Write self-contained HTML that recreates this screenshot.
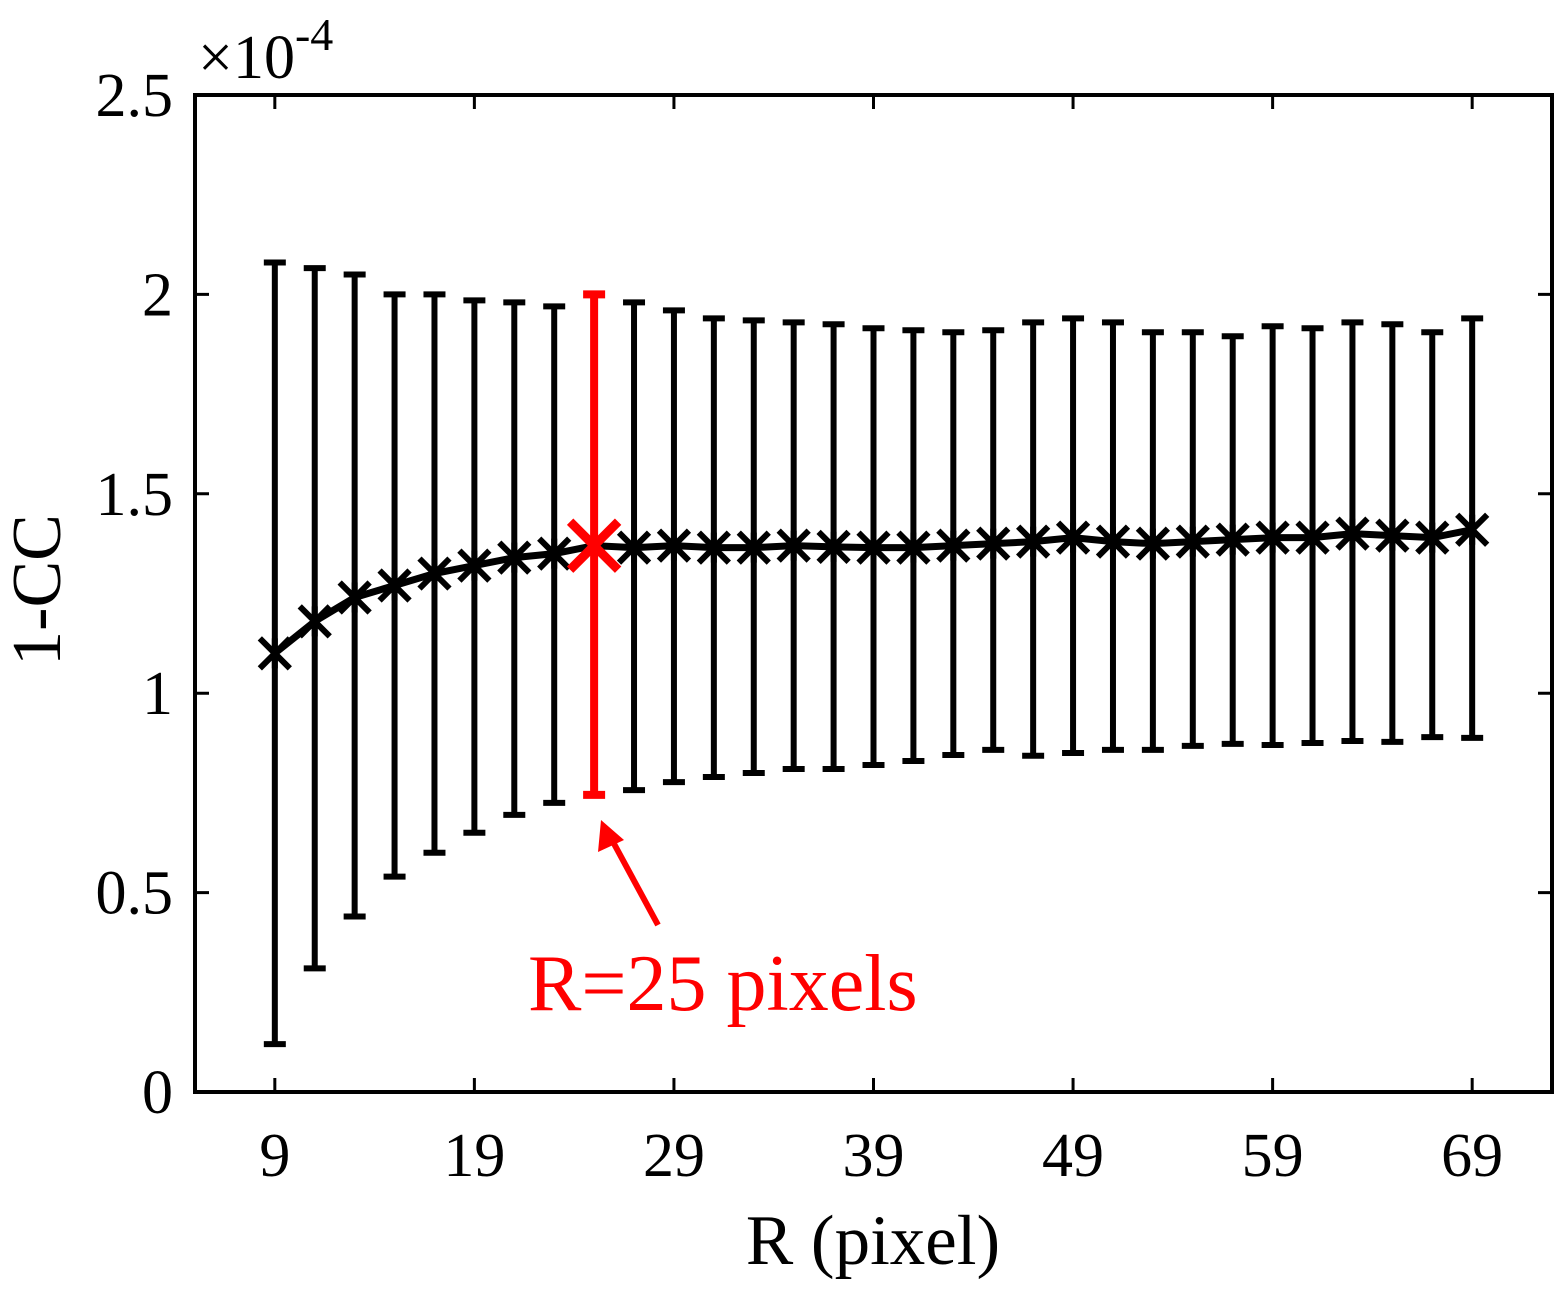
<!DOCTYPE html>
<html><head><meta charset="utf-8"><style>
html,body{margin:0;padding:0;background:#fff;}
svg{display:block;font-family:"Liberation Serif",serif;}
</style></head><body>
<svg id="chart" width="1568" height="1293" viewBox="0 0 1568 1293" xmlns="http://www.w3.org/2000/svg">
<g id="plot"></g>
</svg>
<script>
const xValues=[9,11,13,15,17,19,21,23,25,27,29,31,33,35,37,39,41,43,45,47,49,51,53,55,57,59,61,63,65,67,69];
const meanValues=[1.10,1.18,1.24,1.27,1.30,1.32,1.34,1.35,1.37,1.365,1.37,1.365,1.365,1.37,1.367,1.365,1.365,1.37,1.375,1.38,1.39,1.38,1.375,1.38,1.385,1.39,1.39,1.40,1.395,1.39,1.41];
const upperValues=[2.08,2.066,2.05,2.0,2.0,1.985,1.98,1.97,2.0,1.98,1.96,1.94,1.935,1.93,1.925,1.915,1.91,1.905,1.91,1.93,1.94,1.93,1.905,1.905,1.895,1.92,1.915,1.93,1.925,1.905,1.94];
const lowerValues=[0.12,0.31,0.44,0.54,0.60,0.65,0.695,0.725,0.745,0.757,0.777,0.79,0.80,0.81,0.81,0.82,0.83,0.845,0.858,0.843,0.85,0.858,0.858,0.868,0.873,0.87,0.875,0.88,0.878,0.89,0.888];
const highlightX=25;
const xTicks=[9,19,29,39,49,59,69];
const yTicks=[0,0.5,1,1.5,2,2.5];
const yTickLabels=["0","0.5","1","1.5","2","2.5"];

const L=195,R=1552,T=95,B=1092,xMin=5,xMax=73,yMin=0,yMax=2.5;
const sx=v=>L+(v-xMin)/(xMax-xMin)*(R-L);
const sy=v=>B-(v-yMin)/(yMax-yMin)*(B-T);
const NS="http://www.w3.org/2000/svg";
const g=document.getElementById('plot');
function mk(tag,attrs,parent){const e=document.createElementNS(NS,tag);for(const k in attrs)e.setAttribute(k,attrs[k]);(parent||g).appendChild(e);return e;}

const box=mk('rect',{x:L,y:T,width:R-L,height:B-T,fill:'none',stroke:'#000','stroke-width':4});



xTicks.forEach(t=>{
  const x=sx(t);
  const tk=mk('path',{d:`M${x},${B}V${B-14}M${x},${T}V${T+14}`,stroke:'#000','stroke-width':3});
  
  
  const lb=mk('text',{x:x,y:B+84,'font-size':62,'text-anchor':'middle',fill:'#000'});
  lb.textContent=t;
  
  
});
yTicks.forEach((t,i)=>{
  const y=sy(t);
  const tk=mk('path',{d:`M${L},${y}H${L+14}M${R},${y}H${R-14}`,stroke:'#000','stroke-width':3});
  
  
  const lb=mk('text',{x:L-22,y:y+21,'font-size':62,'text-anchor':'end',fill:'#000'});
  lb.textContent=yTickLabels[i];
  
  
});

xValues.forEach((v,i)=>{
  const red=v===highlightX, c=red?'#f00':'#000';
  const x=sx(v),y1=sy(upperValues[i]),y2=sy(lowerValues[i]);
  const eb=mk('path',{d:`M${x},${y1}V${y2}M${x-11},${y1}H${x+11}M${x-11},${y2}H${x+11}`,stroke:c,'stroke-width':red?8:6,fill:'none'});
  
  
});
const line=mk('polyline',{points:xValues.map((v,i)=>sx(v)+','+sy(meanValues[i])).join(' '),fill:'none',stroke:'#000','stroke-width':7});


xValues.forEach((v,i)=>{
  const red=v===highlightX, c=red?'#f00':'#000', s=red?24:15;
  const x=sx(v),y=sy(meanValues[i]);
  const m=mk('path',{d:`M${x-s},${y-s}L${x+s},${y+s}M${x-s},${y+s}L${x+s},${y-s}`+(red?'':`M${x},${y-s}V${y+s}`),stroke:c,'stroke-width':red?9:6});
  
  
});

const ar=mk('path',{d:`M658,925L612,840`,stroke:'#f00','stroke-width':6});


const ah=mk('polygon',{points:'601,820 598,852 624,840',fill:'#f00'});


const at=mk('text',{x:528,y:1010,'font-size':80,fill:'#f00'});
at.textContent='R=25 pixels';



const xt=mk('text',{x:873,y:1264,'font-size':71,'text-anchor':'middle',fill:'#000'});
xt.textContent='R (pixel)';


const yt=mk('text',{x:0,y:0,'font-size':70,'text-anchor':'middle',fill:'#000',transform:`translate(60,590) rotate(-90)`});
yt.textContent='1-CC';


const ex=mk('text',{x:198,y:78,'font-size':62,fill:'#000'});
ex.innerHTML='×10<tspan dy="-28" font-size="46">-4</tspan>';


</script>
</body></html>
